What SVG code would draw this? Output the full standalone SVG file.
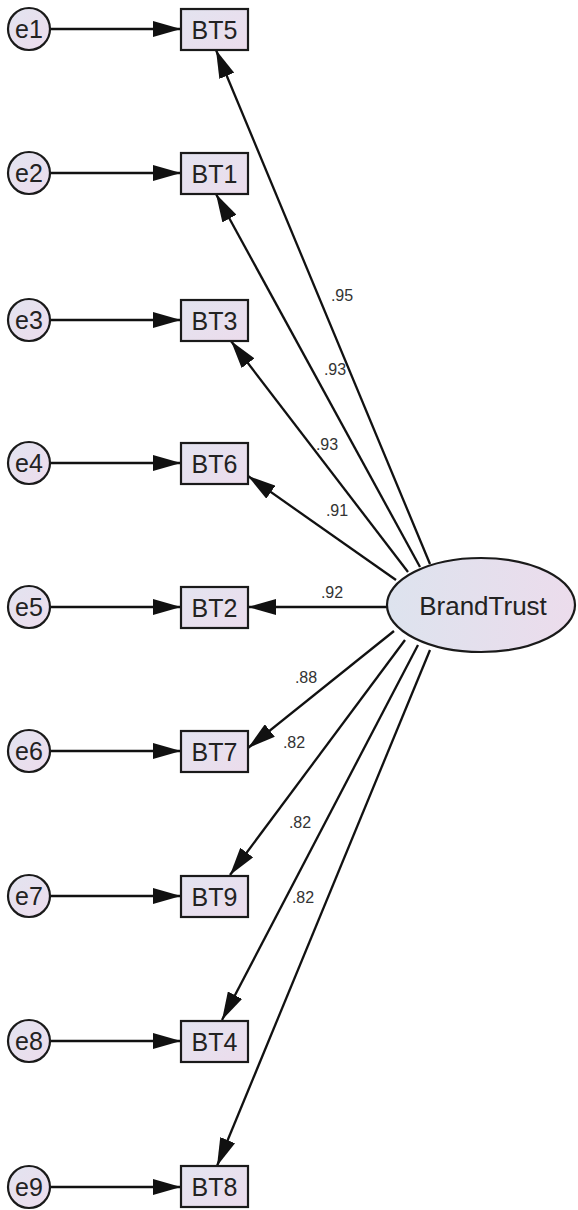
<svg xmlns="http://www.w3.org/2000/svg" width="578" height="1210" viewBox="0 0 578 1210">
  <defs>
    <linearGradient id="boxFill" x1="0" y1="0" x2="1" y2="1">
      <stop offset="0" stop-color="#e3e4f0"/>
      <stop offset="1" stop-color="#ecdcec"/>
    </linearGradient>
    <linearGradient id="errFill" x1="0" y1="0" x2="1" y2="1">
      <stop offset="0" stop-color="#e2e4f0"/>
      <stop offset="1" stop-color="#eddcec"/>
    </linearGradient>
    <linearGradient id="latentFill" x1="0" y1="0" x2="1" y2="0">
      <stop offset="0" stop-color="#dde3ee"/>
      <stop offset="1" stop-color="#ecdcec"/>
    </linearGradient>
    <marker id="head" viewBox="0 0 28 16" refX="28" refY="8" markerWidth="28" markerHeight="16" markerUnits="userSpaceOnUse" orient="auto">
      <path d="M0,0 L28,8 L0,16 Z" fill="#111"/>
    </marker>
  </defs>
  <style>
    .err { fill: url(#errFill); stroke: #1a1a1a; stroke-width: 2.2; }
    .box { fill: url(#boxFill); stroke: #1a1a1a; stroke-width: 2.2; }
    .lat { fill: url(#latentFill); stroke: #1a1a1a; stroke-width: 2.2; }
    .t { font-family: "Liberation Sans", Arial, sans-serif; fill: #222; text-anchor: middle; dominant-baseline: central; }
    .tn { font-size: 25px; }
    .te { font-size: 25px; }
    .tl { font-size: 26px; }
    .w { font-family: "Liberation Sans", Arial, sans-serif; fill: #333; font-size: 16px; text-anchor: middle; dominant-baseline: central; }
    .c { stroke: #111; stroke-width: 2.3; fill: none; marker-end: url(#head); }
  </style>

  <!-- connectors: error terms to indicators, latent factor to indicators -->
  <g id="connectors">
    <line class="c" x1="51" y1="29" x2="181" y2="29"/>
    <line class="c" x1="51" y1="173" x2="181" y2="173"/>
    <line class="c" x1="51" y1="320" x2="181" y2="320"/>
    <line class="c" x1="51" y1="463" x2="181" y2="463"/>
    <line class="c" x1="51" y1="607" x2="181" y2="607"/>
    <line class="c" x1="51" y1="751" x2="181" y2="751"/>
    <line class="c" x1="51" y1="896" x2="181" y2="896"/>
    <line class="c" x1="51" y1="1041" x2="181" y2="1041"/>
    <line class="c" x1="51" y1="1187" x2="181" y2="1187"/>

    <line class="c" x1="430" y1="564" x2="216" y2="50"/>
    <line class="c" x1="420" y1="567" x2="216" y2="194"/>
    <line class="c" x1="408" y1="572" x2="231" y2="341"/>
    <line class="c" x1="396" y1="580" x2="248" y2="476"/>
    <line class="c" x1="387" y1="607" x2="248" y2="607"/>
    <line class="c" x1="394" y1="631" x2="248" y2="748"/>
    <line class="c" x1="405" y1="640" x2="230" y2="875"/>
    <line class="c" x1="418" y1="645" x2="222" y2="1020"/>
    <line class="c" x1="430" y1="650" x2="217" y2="1166"/>
  </g>

  <g id="weights">
    <text class="w" x="342" y="295">.95</text>
    <text class="w" x="335" y="369">.93</text>
    <text class="w" x="327" y="444">.93</text>
    <text class="w" x="337" y="510">.91</text>
    <text class="w" x="332" y="592">.92</text>
    <text class="w" x="306" y="677">.88</text>
    <text class="w" x="294" y="742">.82</text>
    <text class="w" x="300" y="822">.82</text>
    <text class="w" x="303" y="897">.82</text>
  </g>

  <g id="e1"><circle class="err" cx="29" cy="29" r="21"/><text class="t te" x="29" y="29">e1</text></g>
  <g id="e2"><circle class="err" cx="29" cy="173" r="21"/><text class="t te" x="29" y="173">e2</text></g>
  <g id="e3"><circle class="err" cx="29" cy="320" r="21"/><text class="t te" x="29" y="320">e3</text></g>
  <g id="e4"><circle class="err" cx="29" cy="463" r="21"/><text class="t te" x="29" y="463">e4</text></g>
  <g id="e5"><circle class="err" cx="29" cy="607" r="21"/><text class="t te" x="29" y="607">e5</text></g>
  <g id="e6"><circle class="err" cx="29" cy="751" r="21"/><text class="t te" x="29" y="751">e6</text></g>
  <g id="e7"><circle class="err" cx="29" cy="896" r="21"/><text class="t te" x="29" y="896">e7</text></g>
  <g id="e8"><circle class="err" cx="29" cy="1041" r="21"/><text class="t te" x="29" y="1041">e8</text></g>
  <g id="e9"><circle class="err" cx="29" cy="1187" r="21"/><text class="t te" x="29" y="1187">e9</text></g>

  <g id="BT5"><rect class="box" x="181" y="9" width="67" height="41"/><text class="t tn" x="214.5" y="29.5">BT5</text></g>
  <g id="BT1"><rect class="box" x="181" y="153" width="67" height="41"/><text class="t tn" x="214.5" y="173.5">BT1</text></g>
  <g id="BT3"><rect class="box" x="181" y="300" width="67" height="41"/><text class="t tn" x="214.5" y="320.5">BT3</text></g>
  <g id="BT6"><rect class="box" x="181" y="443" width="67" height="41"/><text class="t tn" x="214.5" y="463.5">BT6</text></g>
  <g id="BT2"><rect class="box" x="181" y="587" width="67" height="41"/><text class="t tn" x="214.5" y="607.5">BT2</text></g>
  <g id="BT7"><rect class="box" x="181" y="731" width="67" height="41"/><text class="t tn" x="214.5" y="751.5">BT7</text></g>
  <g id="BT9"><rect class="box" x="181" y="876" width="67" height="41"/><text class="t tn" x="214.5" y="896.5">BT9</text></g>
  <g id="BT4"><rect class="box" x="181" y="1021" width="67" height="41"/><text class="t tn" x="214.5" y="1041.5">BT4</text></g>
  <g id="BT8"><rect class="box" x="181" y="1166" width="67" height="41"/><text class="t tn" x="214.5" y="1186.5">BT8</text></g>

  <g id="BrandTrust"><ellipse class="lat" cx="481" cy="605" rx="94" ry="47"/><text class="t tl" x="483" y="606">BrandTrust</text></g>
</svg>
